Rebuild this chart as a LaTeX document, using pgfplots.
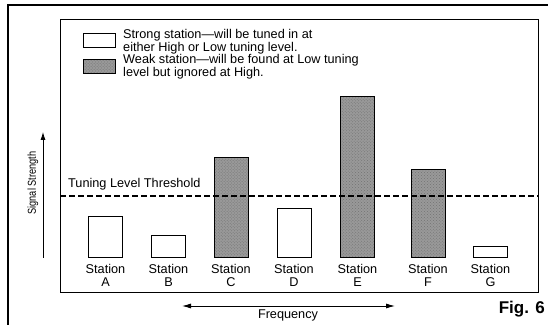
\documentclass[border=0pt]{standalone}
\usepackage{fontspec}
\setmainfont{Liberation Sans}
\usepackage{graphicx}
\usepackage{pgfplots}
\pgfplotsset{compat=1.18}
\usetikzlibrary{patterns,arrows.meta}
\newcommand{\tf}{\fontsize{12.7bp}{12.7bp}\selectfont}
\pgfplotsset{boxlegend/.style={legend image code/.code={\draw[##1] (0bp,-7bp) rectangle (32bp,7bp);}}}
\begin{document}
\begin{tikzpicture}
\useasboundingbox (0bp,0bp) rectangle (548bp,325bp);
\draw[line width=1.3bp] (8bp,0bp) -- (8bp,320bp) -- (548bp,320bp);
\begin{axis}[
  at={(60bp,33bp)}, anchor=south west,
  scale only axis, width=478bp, height=272bp,
  xmin=60, xmax=538, ymin=-34, ymax=238,
  axis line style={line width=1bp},
  ytick=\empty,
  xtick={105.5,168.5,231,294,357.5,428,490.5},
  xticklabels={Station\\A,Station\\B,Station\\C,Station\\D,Station\\E,Station\\F,Station\\G},
  xticklabel style={align=center, font=\tf, yshift=31bp},
  major tick length=0pt,
  ybar, bar width=34,
  legend style={draw=none, fill=none, at={(axis cs:83,229)}, anchor=north west,
    inner sep=0pt, row sep=2bp, column sep=0pt,
    nodes={inner sep=0pt, align=left, font=\tf},
    cells={anchor=west}},
]
\addplot[bar shift=0pt, fill=white, draw=black, line width=1bp, boxlegend]
  coordinates {(105.5,41) (168.5,22) (294,49) (490.5,11)};
\addlegendentry{\hspace{7bp}Strong station---will be tuned in at\\\hspace{7bp}either High or Low tuning level.}
\addplot[bar shift=0pt, fill=black!40, draw=black, line width=1bp,
  postaction={pattern=crosshatch dots, pattern color=black!55}, boxlegend]
  coordinates {(231,100) (357.5,161) (428,88)};
\addlegendentry{\hspace{7bp}Weak station---will be found at Low tuning\\\hspace{7bp}level but ignored at High.}
\addplot[sharp plot, forget plot, black, line width=1.6bp, dash pattern=on 6bp off 3bp]
  coordinates {(60,62) (538,62)};
\node[anchor=base west, font=\tf, inner sep=0pt] at (axis cs:68,70) {Tuning Level Threshold};
\end{axis}
\draw[line width=0.8bp, -{Latex[length=8bp,width=5bp]}] (43bp,67bp) -- (43bp,193bp);
\node[rotate=90, font=\fontsize{11.5bp}{11.5bp}\selectfont] at (33bp,142bp) {\scalebox{0.8}[1]{Signal Strength}};
\draw[line width=0.8bp, {Latex[length=9bp,width=5bp]}-{Latex[length=9bp,width=5bp]}] (182bp,19bp) -- (395bp,19bp);
\node[anchor=base, font=\tf, inner sep=0pt] at (288bp,7bp) {Frequency};
\node[anchor=base east, font=\fontsize{17bp}{17bp}\selectfont\bfseries, inner sep=0pt] at (545bp,12bp) {Fig. 6};
\end{tikzpicture}
\end{document}
